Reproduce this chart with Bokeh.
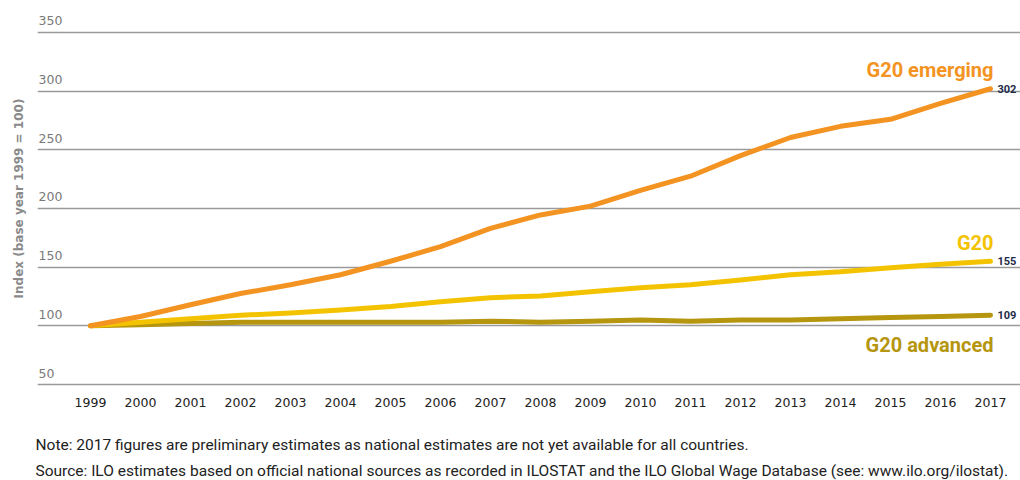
from bokeh.plotting import figure
from bokeh.models import Range1d, FixedTicker, Title
from bokeh.core.properties import value
from bokeh.embed import file_html
from bokeh.resources import INLINE

years = list(range(1999, 2018))
g20_emerging = [100, 108, 118, 127.5, 135, 143.5, 155, 167.5, 183, 194.5, 202,
                215.5, 227.5, 245, 260.5, 270, 276, 289.5, 302]
g20 = [100, 103, 106, 109, 111, 113.5, 116.5, 120.5, 124, 125.5, 129,
       132.5, 135, 139, 143.5, 146, 149.5, 152.5, 155]
g20_advanced = [100, 101, 102, 103, 103, 103, 103, 103, 104, 103, 104,
                105, 104, 105, 105, 106, 107, 108, 109]
y_ticks = [50, 100, 150, 200, 250, 300, 350]
series_names = ["G20 emerging", "G20", "G20 advanced"]
end_labels = ["302", "155", "109"]
note_text = "Note: 2017 figures are preliminary estimates as national estimates are not yet available for all countries."
source_text = ("Source: ILO estimates based on official national sources as recorded in ILOSTAT "
               "and the ILO Global Wage Database (see: www.ilo.org/ilostat).")

C_EM = "#F39322"
C_G20 = "#F4C300"
C_ADV = "#B5960E"
NAVY = "#1E2B4A"

X0, X1 = 1997.94, 2017.6
Y0, Y1 = 46.6, 370.4

p = figure(width=1020, height=480, output_backend="svg", toolbar_location=None,
           x_range=Range1d(X0, X1), y_range=Range1d(Y0, Y1),
           min_border_left=37, min_border_right=0, min_border_top=8, min_border_bottom=91)
p.outline_line_color = None
p.background_fill_color = "white"
p.border_fill_color = "white"

# grid
p.xgrid.visible = False
p.ygrid.ticker = FixedTicker(ticks=y_ticks)
p.ygrid.grid_line_color = "#9a9a9a"
p.ygrid.grid_line_width = 1.5

# y axis (title only)
p.yaxis.ticker = FixedTicker(ticks=[])
p.yaxis.axis_line_color = None
p.yaxis.major_tick_line_color = None
p.yaxis.minor_tick_line_color = None
p.yaxis.axis_label = "Index (base year 1999 = 100)"
p.yaxis.axis_label_text_font = "DejaVu Sans"
p.yaxis.axis_label_text_font_size = "12px"
p.yaxis.axis_label_text_font_style = "bold"
p.yaxis.axis_label_text_color = "#8a8a8a"
p.yaxis.axis_label_standoff = 12

# x axis
p.xaxis.ticker = FixedTicker(ticks=years)
p.xaxis.axis_line_color = None
p.xaxis.major_tick_line_color = None
p.xaxis.minor_tick_line_color = None
p.xaxis.major_tick_out = 0
p.xaxis.major_label_standoff = 9
p.xaxis.major_label_text_font = "DejaVu Sans"
p.xaxis.major_label_text_font_size = "12.5px"
p.xaxis.major_label_text_color = "#222222"

# y tick labels above gridlines
p.text(x=[X0] * len(y_ticks), y=y_ticks, text=[str(t) for t in y_ticks],
       text_font=value("DejaVu Sans"), text_font_size="12.5px", text_color="#7a7a7a",
       text_baseline="bottom", text_align="left", x_offset=1, y_offset=-7)

# lines
p.line(years, g20_advanced, line_color=C_ADV, line_width=5, line_cap="round", line_join="round")
p.line(years, g20, line_color=C_G20, line_width=5, line_cap="round", line_join="round")
p.line(years, g20_emerging, line_color=C_EM, line_width=5, line_cap="round", line_join="round")

# end value labels
p.text(x=[years[-1]] * 3, y=[g20_emerging[-1], g20[-1], g20_advanced[-1]], text=end_labels,
       text_font=value("Roboto"), text_font_style="bold", text_font_size="11px",
       text_color=NAVY, text_align="left", text_baseline="middle", x_offset=7)

# series labels
p.text(x=[years[-1]] * 3, y=[318, 171, 84], text=series_names,
       text_font=value("Roboto"), text_font_style="bold", text_font_size="20px",
       text_color=[C_EM, C_G20, C_ADV], text_align="right", text_baseline="middle", x_offset=3)

# spacer between axis and notes
p.add_layout(Title(text=" ", text_font_size="1px", standoff=15), "below")
# notes
p.add_layout(Title(text=note_text, align="left", text_font="Roboto", text_font_size="15.5px",
                   text_font_style="normal", text_color="#222222", standoff=12, offset=-2), "below")
p.add_layout(Title(text=source_text, align="left", text_font="Roboto", text_font_size="15.5px",
                   text_font_style="normal", text_color="#222222", standoff=1, offset=-2), "below")

open("out.html", "w").write(file_html(p, INLINE))
